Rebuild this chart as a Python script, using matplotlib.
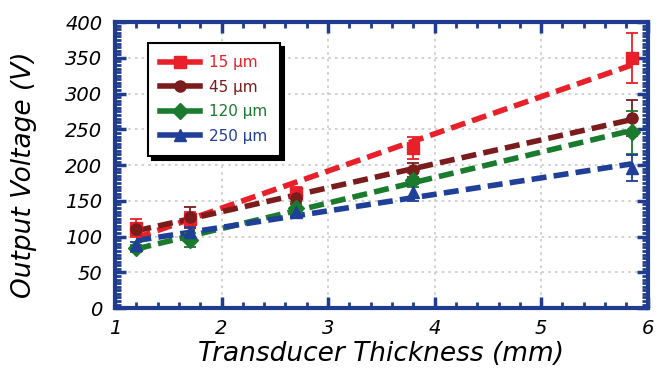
import numpy as np
from matplotlib import pyplot as plt
from matplotlib.ticker import MultipleLocator

# transducer thickness (mm)
thickness = [1.2, 1.7, 2.7, 3.8, 5.85]

labels = ['15 \u00b5m', '45 \u00b5m', '120 \u00b5m', '250 \u00b5m']
v_15 = [112, 125, 161, 224, 350]
v_45 = [110, 127, 154, 193, 266]
v_120 = [84, 95, 140, 179, 246]
v_250 = [88, 106, 134, 162, 196]

err_15 = [13, 10, 8, 15, 35]
err_45 = [8, 15, 8, 10, 25]
err_120 = [5, 10, 8, 10, 30]
err_250 = [5, 8, 6, 12, 18]

colors = ['#e8202a', '#7a1c1c', '#1a7a2e', '#1f3f99']
markers = ['s', 'o', 'D', '^']
spine_color = '#1f3c8f'

plt.rcParams['font.family'] = ['DejaVu Sans']

fig = plt.figure(figsize=(6.65, 3.74), dpi=100)
ax = fig.add_axes([0.173, 0.176, 0.801, 0.765])

series = [v_15, v_45, v_120, v_250]
errors = [err_15, err_45, err_120, err_250]
x = np.array(thickness)
for vals, err, col, mk, lab in zip(series, errors, colors, markers, labels):
    # linear fit drawn as dashed line
    k, b = np.polyfit(x, vals, 1)
    xs = np.array([x[0], x[-1]])
    ax.plot(xs, k * xs + b, color=col, lw=4.0, ls=(0, (2.7, 1.3)), zorder=3)
    ax.errorbar(x, vals, yerr=err, fmt=mk, color=col, ms=8, elinewidth=1.3,
                capsize=4.5, capthick=1.3, zorder=4)
    # legend proxy
    ax.plot([], [], color=col, lw=4, marker=mk, ms=8, label=lab)

ax.set_xlim(1, 6)
ax.set_ylim(0, 400)
ax.xaxis.set_major_locator(MultipleLocator(1))
ax.xaxis.set_minor_locator(MultipleLocator(0.2))
ax.yaxis.set_major_locator(MultipleLocator(50))
ax.yaxis.set_minor_locator(MultipleLocator(5))
ax.grid(True, which='major', color='#c8c8c8', ls=(0, (1.5, 2.5)), lw=1.2)

for s in ax.spines.values():
    s.set_color(spine_color)
    s.set_linewidth(3)
ax.tick_params(which='both', direction='in', top=True, right=True,
               color=spine_color, labelsize=14)
ax.tick_params(axis='x', pad=8)
ax.tick_params(axis='y', pad=9)
ax.tick_params(which='major', length=8, width=2.5)
ax.tick_params(which='minor', length=4, width=2)
for t in ax.get_xticklabels() + ax.get_yticklabels():
    t.set_fontstyle('italic')

ax.set_xlabel('Transducer Thickness (mm)', fontsize=19, fontstyle='italic', labelpad=2)
ax.set_ylabel('Output Voltage (V)', fontsize=19, fontstyle='italic')
ax.yaxis.set_label_coords(-0.146, 0.465)

leg = ax.legend(loc='upper left', bbox_to_anchor=(0.062, 0.927), borderaxespad=0,
                fontsize=11, labelcolor='linecolor', handlelength=2.6,
                handletextpad=0.6, labelspacing=0.62, borderpad=0.8,
                fancybox=False, edgecolor='black', framealpha=1,
                shadow={'color': 'black', 'alpha': 1, 'ox': 3, 'oy': -3})
leg.get_frame().set_linewidth(1.5)

fig.savefig('out.png', dpi=100)
